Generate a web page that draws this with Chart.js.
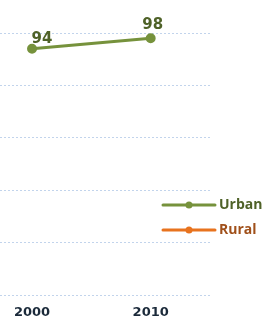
<!DOCTYPE html>
<html><head><meta charset="utf-8">
<script src="https://cdn.jsdelivr.net/npm/chart.js@4.4.0/dist/chart.umd.min.js"></script>
<style>html,body{margin:0;padding:0;background:#fff}#wrap{width:267px;height:316px;position:relative}</style>
</head><body><div id="wrap"><canvas id="c"></canvas></div>
<script>
const years = [2000, 2010];
const urban = [94, 98];
const rural = [];
const xTicks = [2000, 2010];
const yTicks = [0, 20, 40, 60, 80, 100];
const seriesNames = ['Urban', 'Rural'];

const FONT = '"Open Sans", Lato, sans-serif';
const lineColors = ['#76923c', '#e8731e'];
const textColors = ['#4f6228', '#a0501a'];

const labelPlugin = {
  id: 'vals',
  afterDatasetsDraw(chart) {
    const ctx = chart.ctx;
    const meta = chart.getDatasetMeta(0);
    const offs = [[10, -10], [2, -13]];
    ctx.save();
    ctx.font = 'bold 15px "DejaVu Sans", sans-serif';
    ctx.fillStyle = textColors[0];
    ctx.textAlign = 'center';
    ctx.textBaseline = 'middle';
    meta.data.forEach((p, i) => {
      ctx.fillText(String(urban[i]), p.x + offs[i][0], p.y + offs[i][1]);
    });
    ctx.restore();
  }
};
const legendPlugin = {
  id: 'lg',
  afterDraw(chart) {
    const ctx = chart.ctx;
    const rows = [205, 230];
    ctx.save();
    seriesNames.forEach((n, i) => {
      const y = rows[i];
      ctx.strokeStyle = lineColors[i];
      ctx.lineWidth = 3;
      ctx.lineCap = 'round';
      ctx.beginPath(); ctx.moveTo(163, y); ctx.lineTo(215, y); ctx.stroke();
      ctx.fillStyle = lineColors[i];
      ctx.beginPath(); ctx.arc(189, y, 3.5, 0, Math.PI * 2); ctx.fill();
      ctx.font = 'bold 14px ' + FONT;
      ctx.fillStyle = textColors[i];
      ctx.textAlign = 'left';
      ctx.textBaseline = 'middle';
      ctx.fillText(n, 219, y);
    });
    ctx.restore();
  }
};

new Chart(document.getElementById('c'), {
  type: 'line',
  data: {
    datasets: [
      { label: seriesNames[0], data: years.map((y, i) => ({x: y, y: urban[i]})), borderColor: lineColors[0], backgroundColor: lineColors[0], borderWidth: 3, pointRadius: 3.5, pointHoverRadius: 3.5 },
      { label: seriesNames[1], data: rural.map((v, i) => ({x: years[i], y: v})), borderColor: lineColors[1], backgroundColor: lineColors[1], borderWidth: 3, pointRadius: 3.5 }
    ]
  },
  options: {
    responsive: true, maintainAspectRatio: false, animation: false,
    layout: { autoPadding: false, padding: { top: 33, right: 57, left: 0, bottom: 0 } },
    plugins: { legend: { display: false }, tooltip: { enabled: false } },
    scales: {
      x: {
        type: 'linear', min: 1997.3, max: 2015,
        afterBuildTicks(s) { s.ticks = xTicks.map(v => ({value: v})); },
        afterFit(s) { s.height = 21; },
        grid: { display: false, drawTicks: false }, border: { display: false },
        ticks: { font: { family: '"DejaVu Sans", sans-serif', weight: 'bold', size: 13 }, color: '#1b2a3a', padding: 10, maxRotation: 0, callback: v => String(v) }
      },
      y: {
        min: 0, max: 100,
        afterBuildTicks(s) { s.ticks = yTicks.map(v => ({value: v})); },
        afterFit(s) { s.width = 0; },
        border: { display: false, dash: [2, 2] },
        grid: { color: '#c2d4ec', lineWidth: 1, drawTicks: false },
        ticks: { display: false, padding: 0 }
      }
    }
  },
  plugins: [labelPlugin, legendPlugin]
});
</script></body></html>
